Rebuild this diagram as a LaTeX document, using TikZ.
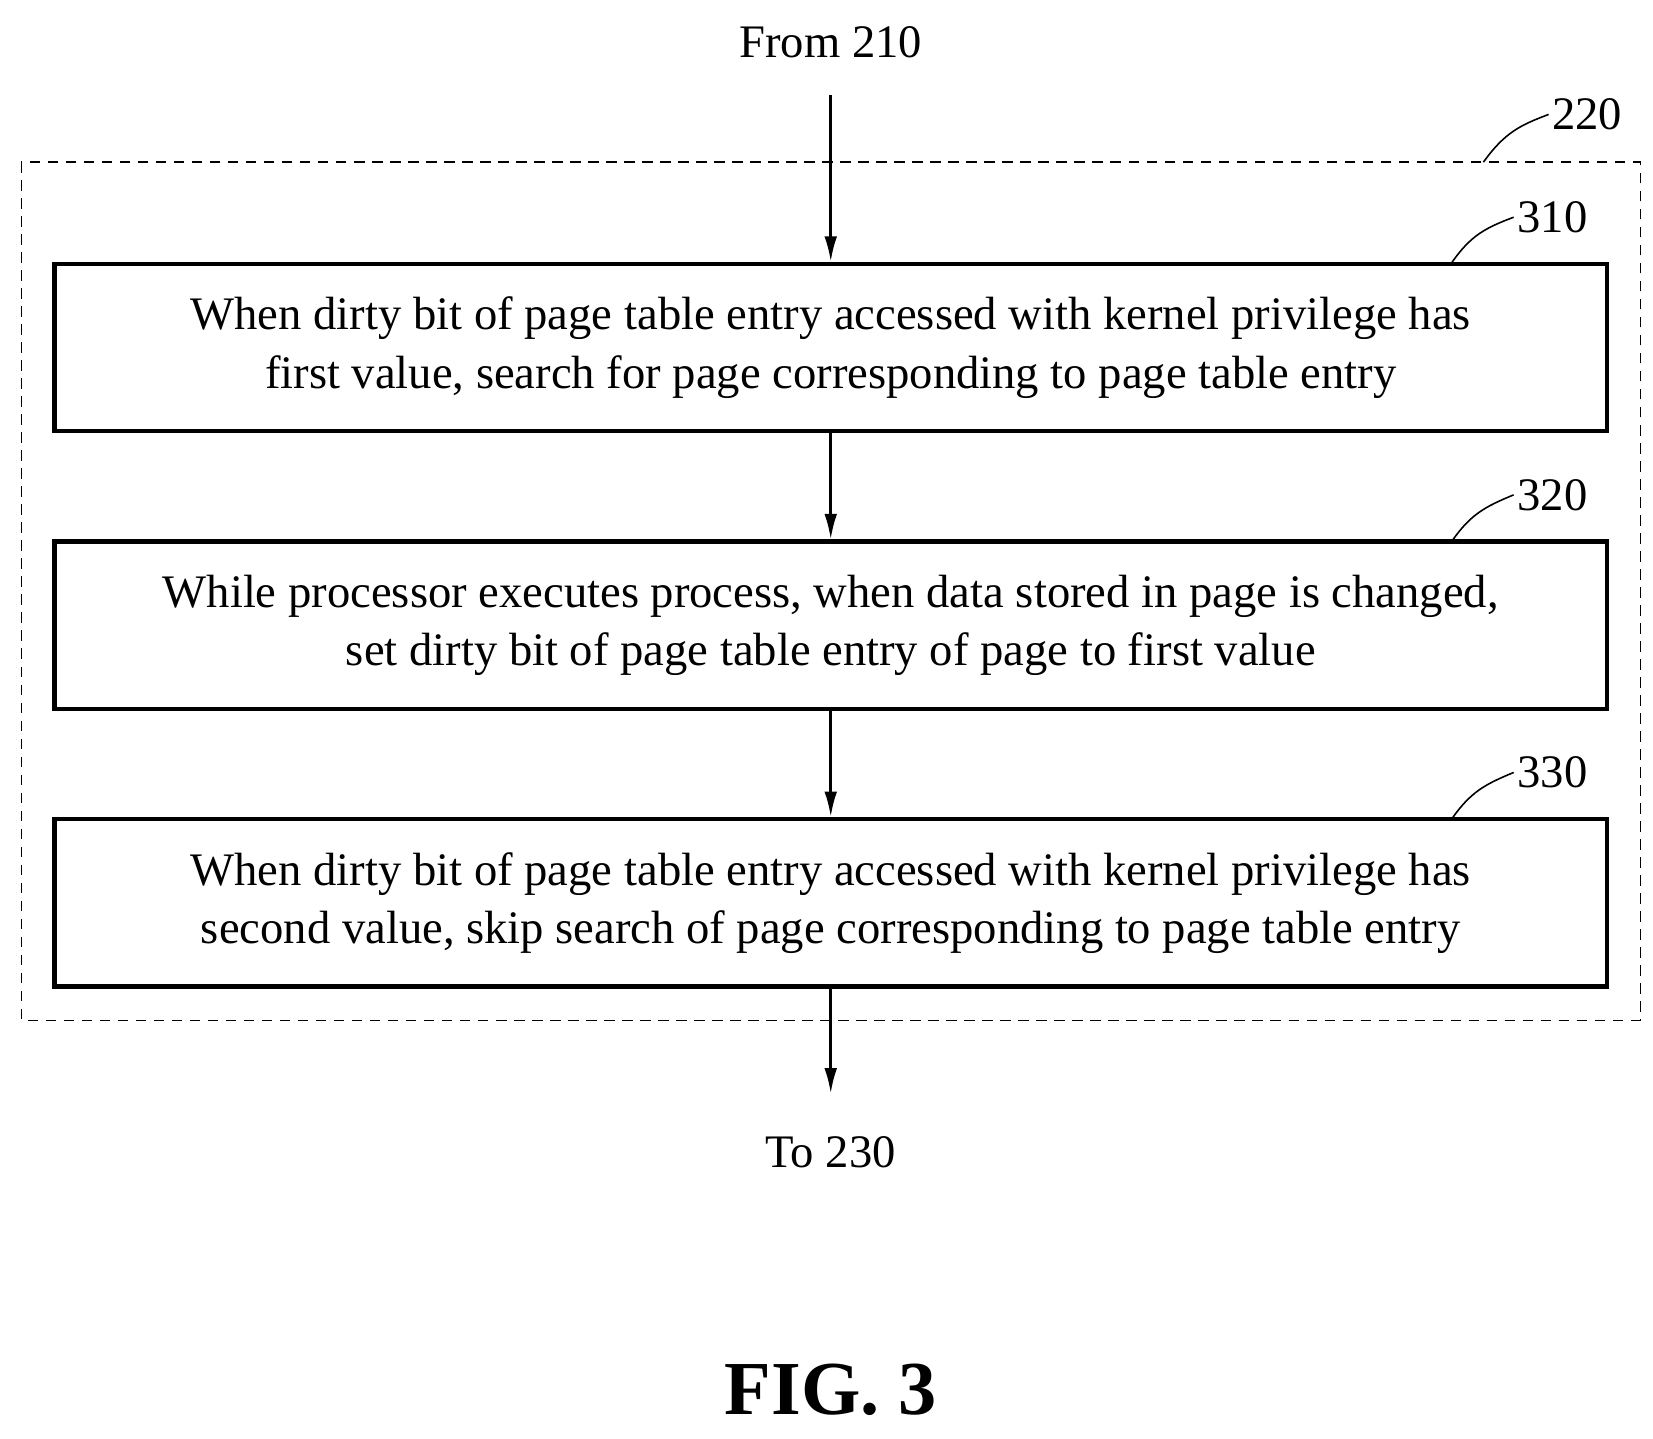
\documentclass[tikz,border=0pt]{standalone}
\usepackage{fontspec}
\setmainfont{Liberation Serif}
\usetikzlibrary{positioning,arrows.meta}
\begin{document}
\begin{tikzpicture}[x=1pt,y=-1pt,
	stepbox/.style={draw, line width=4pt, minimum width=1465pt, minimum height=158pt, align=center, font=\fontsize{44}{55}\selectfont},
	lbl/.style={font=\fontsize{44}{50}\selectfont},
	flow/.style={-{Latex[length=24pt,width=12pt]}, line width=2.5pt}]
	\useasboundingbox (0,0) rectangle (1560,1358);
	\draw[dash pattern=on 10pt off 7pt, line width=1.2pt] (20,153) rectangle (1548,963);
	\node (from) [lbl] at (784,40) {From 210};
	\node (s310)[stepbox] at (784,328) {When dirty bit of page table entry accessed with kernel privilege has\\first value, search for page corresponding to page table entry};
	\node (s320)[stepbox] at (784,590) {While processor executes process, when data stored in page is changed,\\set dirty bit of page table entry of page to first value};
	\node (s330)[stepbox] at (784,852) {When dirty bit of page table entry accessed with kernel privilege has\\second value, skip search of page corresponding to page table entry};
	\node (to) [lbl] at (784,1087) {To 230};
	\coordinate (top) at (784,90);
	\coordinate (bot) at (784,1032);
	\draw [flow](top)--(s310);
	\draw [flow](s310)--(s320);
	\draw [flow](s320)--(s330);
	\draw [flow](s330)--(bot);

	\node (n220)[lbl] at (1498,108) {220};
	\node (n310)[lbl] at (1465,205) {310};
	\node (n320)[lbl] at (1465,467) {320};
	\node (n330)[lbl] at (1465,729) {330};
	\draw [line width=1.5pt](1400,153) .. controls (1420,125) and (1435,118) .. (n220.west);
	\draw [line width=1.5pt](1370,248) .. controls (1388,222) and (1402,215) .. (n310.west);
	\draw [line width=1.5pt](1370,511) .. controls (1388,485) and (1402,478) .. (n320.west);
	\draw [line width=1.5pt](1370,773) .. controls (1388,747) and (1402,740) .. (n330.west);

	\node (fig)[font=\fontsize{72}{80}\selectfont\bfseries] at (784,1312) {FIG. 3};
\end{tikzpicture}
\end{document}
